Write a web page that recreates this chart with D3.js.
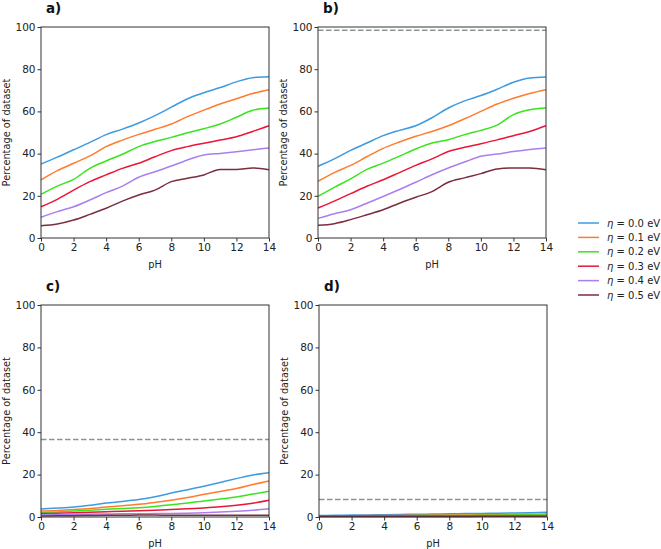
<!DOCTYPE html>
<html><head><meta charset="utf-8">
<script src="https://cdn.jsdelivr.net/npm/d3@7"></script>
<style>
body{margin:0;background:#fff;}
svg{display:block;font-family:"DejaVu Sans",sans-serif;}
</style></head>
<body><svg id="chart" width="661" height="549"></svg>
<script>
const pH = [0,1,2,3,4,5,6,7,8,9,10,11,12,13,14];
const etaLabels = ["0.0","0.1","0.2","0.3","0.4","0.5"];
const colors = ["#3d9be0","#ff7b2e","#39e41c","#ea1639","#a97ff0","#7b2e3e"];
const panelLabels = ["a)","b)","c)","d)"];
const xTicks = [0,2,4,6,8,10,12,14];
const yTicks = [0,20,40,60,80,100];
const dashedLevels = [null, 98.5, 36.5, 8.3];

const panelA = [
  [35,38.3,41.8,45.3,49,51.6,54.5,58,62,66,68.8,71.3,74,76,76.4],
  [27.5,31.9,35.4,38.9,43.3,46.4,49.1,51.5,54,57.5,60.6,63.5,66,68.5,70.3],
  [20.7,24.6,27.8,33,36.5,39.7,43.3,45.7,47.7,49.9,51.8,54,57.2,60.5,61.6],
  [14.8,18.3,22.7,26.7,29.9,33,35.4,38.5,41.4,43.3,44.9,46.4,48,50.5,53.2],
  [9.8,12.5,14.8,18,21.5,24.6,28.8,31.4,34.1,37,39.3,40.1,40.9,41.8,42.7],
  [5.8,6.6,8.5,11.2,14.1,17.5,20.4,22.7,26.7,28.3,29.9,32.5,32.5,33.2,32.4]
];
const panelB = [
  [34,37.5,41.5,45,48.5,51,53.2,57,61.6,65,67.5,70.5,73.8,75.8,76.3],
  [26.9,31,34.4,38.5,42.5,45.5,48.2,50.5,53.2,56.5,60,63.5,66.2,68.5,70.3],
  [19.7,24,28,32.5,35.5,38.8,42.2,45,46.6,49,51,53.5,58.5,60.8,61.6],
  [14.2,17.5,21,24.5,27.6,31,34.4,37.5,41,43,44.7,46.5,48.5,50.5,53.2],
  [9.3,11.5,13.4,16.5,19.7,23,26.4,30,33.2,36,38.7,39.8,41,42,42.7],
  [6,6.8,8.7,11,13.4,16.5,19.3,22,26.4,28.5,30.5,32.7,33.2,33.2,32.4]
];
const panelC = [
  [3.8,4.2,4.7,5.5,6.6,7.3,8.2,9.5,11.3,12.9,14.5,16.3,18.1,19.8,20.9],
  [2.8,3.1,3.5,4,4.7,5.3,6,6.9,7.9,9.2,10.7,12,13.4,15.3,17],
  [2,2.4,2.8,3.2,3.6,4,4.4,5,5.8,6.6,7.6,8.5,9.4,10.8,12.1],
  [1.6,1.8,2,2.2,2.5,2.7,3,3.2,3.5,3.9,4.3,4.8,5.5,6.5,7.9],
  [1.1,1.2,1.3,1.3,1.4,1.5,1.5,1.6,1.7,1.8,2,2.3,2.7,3.2,3.9],
  [0.5,0.6,0.6,0.7,0.8,0.8,0.9,0.9,0.8,0.8,0.8,0.8,0.8,0.8,0.8]
];
const panelD = [
  [0.7,0.8,0.9,1,1.1,1.2,1.3,1.4,1.5,1.6,1.7,1.8,1.9,2,2.2],
  [0.5,0.55,0.6,0.65,0.7,0.75,0.8,0.9,0.95,1,1.05,1.1,1.2,1.3,1.4],
  [0.4,0.45,0.5,0.5,0.55,0.6,0.65,0.7,0.7,0.75,0.8,0.85,0.9,0.95,1],
  [0.6,0.6,0.6,0.6,0.6,0.6,0.6,0.6,0.6,0.6,0.6,0.6,0.6,0.6,0.6],
  [0.3,0.3,0.3,0.35,0.35,0.35,0.4,0.4,0.4,0.4,0.45,0.45,0.45,0.5,0.5],
  [0.2,0.2,0.2,0.2,0.2,0.25,0.25,0.25,0.25,0.25,0.3,0.3,0.3,0.3,0.3]
];
const panelData = [panelA, panelB, panelC, panelD];

const svg = d3.select("#chart");
const boxes = [
  {x0:41, x1:269, y0:27, y1:238},
  {x0:318, x1:546, y0:27, y1:238},
  {x0:41, x1:269, y0:305, y1:517},
  {x0:319, x1:547, y0:305, y1:517}
];
const axisColor = "#333";

boxes.forEach((b, i) => {
  const x = d3.scaleLinear().domain([0,14]).range([b.x0, b.x1]);
  const y = d3.scaleLinear().domain([0,100]).range([b.y1, b.y0]);
  const g = svg.append("g");

  const line = d3.line().x((d,k)=>x(pH[k])).y(d=>y(d)).curve(d3.curveMonotoneX);
  panelData[i].forEach((s, j) => {
    g.append("path").datum(s).attr("d", line)
      .attr("fill","none").attr("stroke", colors[j]).attr("stroke-width",1.5);
  });

  if (dashedLevels[i] !== null) {
    g.append("line").attr("x1", x(0)).attr("x2", x(14))
      .attr("y1", y(dashedLevels[i])).attr("y2", y(dashedLevels[i]))
      .attr("stroke","#8a9396").attr("stroke-width",1.5).attr("stroke-dasharray","5.5,2.5");
  }

  g.append("rect").attr("x", b.x0).attr("y", b.y0)
    .attr("width", b.x1-b.x0).attr("height", b.y1-b.y0)
    .attr("fill","none").attr("stroke", axisColor).attr("stroke-width",1);

  const xa = g.append("g").attr("transform",`translate(0,${b.y1})`)
    .call(d3.axisBottom(x).tickValues(xTicks).tickSize(3.5).tickPadding(2).tickFormat(d3.format("d")));
  const ya = g.append("g").attr("transform",`translate(${b.x0},0)`)
    .call(d3.axisLeft(y).tickValues(yTicks).tickSize(3.5).tickPadding(2).tickFormat(d3.format("d")));
  [xa, ya].forEach(a => {
    a.select(".domain").remove();
    a.selectAll("line").attr("stroke", axisColor);
    a.selectAll("text").attr("fill","#222").style("font-size","10.5px").style("font-family","DejaVu Sans");
  });

  g.append("text").attr("x", (b.x0+b.x1)/2).attr("y", b.y1+29.5)
    .attr("text-anchor","middle").style("font-size","9.8px").attr("fill","#222").text("pH");
  g.append("text").attr("transform",`translate(${b.x0-31},${(b.y0+b.y1)/2}) rotate(-90)`)
    .attr("text-anchor","middle").style("font-size","9.8px").attr("fill","#222").text("Percentage of dataset");
  g.append("text").attr("x", b.x0+5).attr("y", b.y0-14)
    .style("font-size","13.5px").style("font-weight","bold").attr("fill","#111").text(panelLabels[i]);
});

const leg = svg.append("g");
etaLabels.forEach((lab, j) => {
  const yy = 223 + j*14.4;
  leg.append("line").attr("x1",578).attr("x2",599).attr("y1",yy).attr("y2",yy)
    .attr("stroke", colors[j]).attr("stroke-width",1.5);
  const t = leg.append("text").attr("x",607).attr("y",yy+3.6)
    .style("font-size","10px").attr("fill","#222");
  t.append("tspan").style("font-style","italic").text("η");
  t.append("tspan").text(" = " + lab + " eV");
});
</script>
</body></html>
